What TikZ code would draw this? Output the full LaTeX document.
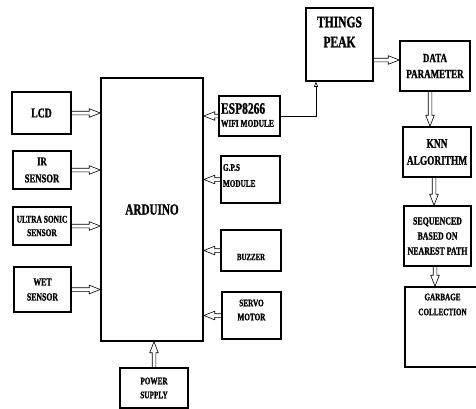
\documentclass[tikz,border=0pt]{standalone}
\usepackage{fontspec}
\setmainfont{Liberation Serif}[FakeStretch=0.72, BoldFeatures={FakeBold=1.2}]
\usetikzlibrary{arrows.meta, calc}

\newcommand{\boxfont}[2]{\bfseries\fontsize{#1}{#2}\selectfont}

\begin{document}
\begin{tikzpicture}[x=1pt, y=-1pt]
        \tikzstyle{every node}=[draw, line width=1.5pt, inner sep=1pt, align=center]
        \tikzstyle{every label}=[draw=none, inner sep=0pt]
        \tikzstyle{hollow}=[line width=0.6pt, to path={
            let \p1=(\tikztostart), \p2=(\tikztotarget), \n2={veclen(\x2-\x1,\y2-\y1)} in
            ($(\p1)!1.8pt!90:(\p2)$) -- ($(\p1)!\n2-11pt!(\p2)!1.8pt!90:(\p2)$)
            -- ($(\p1)!\n2-11pt!(\p2)!4.3pt!90:(\p2)$) -- (\p2)
            -- ($(\p1)!\n2-11pt!(\p2)!4.3pt!-90:(\p2)$) -- ($(\p1)!\n2-11pt!(\p2)!1.8pt!-90:(\p2)$)
            -- ($(\p1)!1.8pt!-90:(\p2)$) \tikztonodes}]
        \useasboundingbox (0,0) rectangle (476,408);

        \node (arduino) [minimum width=102pt, minimum height=263pt, font=\boxfont{15.5}{18}] at (152,209.5) {ARDUINO};

        \node (lcd)   [minimum width=59pt, minimum height=42pt, font=\boxfont{13.5}{16}] at (41.5,113) {LCD};
        \node (ir)    [minimum width=58pt, minimum height=38pt, font=\boxfont{12}{17}] at (42,170) {IR\\SENSOR};
        \node (ultra) [minimum width=58pt, minimum height=38pt, font=\boxfont{10.3}{13.5}] at (42,226) {ULTRA SONIC\\SENSOR};
        \node (wet)   [minimum width=57pt, minimum height=45pt, font=\boxfont{10.8}{15}] at (42.5,289.5) {WET\\SENSOR};

        \node (esp)    [minimum width=61pt, minimum height=40pt, label={[anchor=west, align=left, xshift=2pt, yshift=1pt]west:{\boxfont{16}{18}ESP8266\\[1pt]\boxfont{10.3}{12}WIFI MODULE}}] at (249.5,116) {};
        \node (gps)    [minimum width=59pt, minimum height=47pt, label={[anchor=west, align=left, xshift=2pt, yshift=4pt, font=\boxfont{10}{16}]west:{G.P.S\\MODULE}}] at (250.5,179.5) {};
        \node (buzzer) [minimum width=60pt, minimum height=41pt, label={[yshift=-6.5pt, font=\boxfont{9.5}{12}]center:BUZZER}] at (251,250.5) {};
        \node (servo)  [minimum width=59pt, minimum height=47pt, label={[yshift=5.5pt, font=\boxfont{10}{14}]center:{SERVO\\MOTOR}}] at (251.5,315.5) {};
        \node (power)  [minimum width=68pt, minimum height=40pt, font=\boxfont{10}{14}] at (154,388) {POWER\\SUPPLY};

        \node (things)  [minimum width=67pt, minimum height=73pt, label={[yshift=12.5pt, font=\boxfont{16}{20}]center:{THINGS\\PEAK}}] at (339.5,44.5) {};
        \node (data)    [minimum width=70pt, minimum height=50pt, font=\boxfont{12.5}{16}] at (435,66) {DATA\\PARAMETER};
        \node (knn)     [minimum width=68pt, minimum height=50pt, font=\boxfont{13}{17}] at (437,152) {KNN\\ALGORITHM};
        \node (seq)     [minimum width=67pt, minimum height=60pt, font=\boxfont{10.9}{15}] at (437.5,236) {SEQUENCED\\BASED ON\\NEAREST PATH};
        \node (garbage) [minimum width=75pt, minimum height=80pt, label={[yshift=22.5pt, font=\boxfont{9.9}{15}]center:{GARBAGE\\COLLECTION}}] at (442.5,327) {};

        \draw[hollow] (lcd.east) to (lcd.east -| arduino.west);
        \draw[hollow] (ir.east) to (ir.east -| arduino.west);
        \draw[hollow] (ultra.east) to (ultra.east -| arduino.west);
        \draw[hollow] (wet.east) to (wet.east -| arduino.west);
        \draw[hollow] (esp.west) to (esp.west -| arduino.east);
        \draw[hollow] (gps.west) to (gps.west -| arduino.east);
        \draw[hollow] (buzzer.west) to (buzzer.west -| arduino.east);
        \draw[hollow] (servo.west) to (servo.west -| arduino.east);
        \draw[hollow] (power.north) to (power.north |- arduino.south);

        \draw[hollow] ([yshift=6pt]data.west -| things.east) to ([yshift=6pt]data.west);
        \draw[hollow] ([xshift=-5pt]data.south) to ([xshift=-5pt]data.south |- knn.north);
        \draw[hollow] ([xshift=-3pt]knn.south) to ([xshift=-3pt]knn.south |- seq.north);
        \draw[hollow] ([xshift=-2.5pt]seq.south) to ([xshift=-2.5pt]seq.south |- garbage.north);

        \draw[line width=0.6pt, -{Triangle[open, length=5pt, width=4pt]}] (esp.east) -| ([xshift=-23.5pt]things.south);
\end{tikzpicture}
\end{document}
